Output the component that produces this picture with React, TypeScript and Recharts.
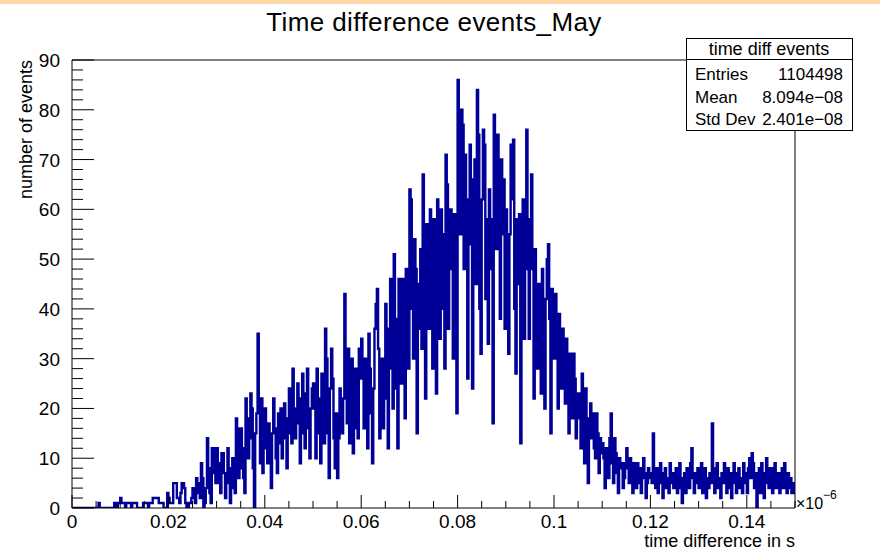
import { Line, LineChart, ReferenceLine, XAxis, YAxis } from 'recharts';

const FONT = '"Liberation Sans", Arial, Helvetica, sans-serif';
const HIST_COLOR = '#000099';

// bin width in units of 1e-6 s (600 bins over 0 .. 0.15)
const binWidth = 0.00025;

// counts per bin, 20 bins per row (one row = 0.005)
// 0 .. 0.025
const leadingCounts = [
  0, 0, 0, 0, 0, 0, 0, 0, 0, 0, 0, 0, 0, 0, 0, 0, 0, 0, 0, 0,
  0, 0, 1, 0, 0, 0, 0, 0, 0, 0, 0, 0, 0, 0, 0, 1, 1, 0, 1, 1,
  2, 1, 1, 1, 0, 1, 1, 1, 1, 0, 1, 1, 1, 1, 0, 0, 0, 0, 0, 1,
  1, 1, 1, 0, 1, 1, 1, 2, 2, 2, 2, 2, 1, 1, 1, 1, 0, 0, 0, 3,
  2, 1, 1, 1, 5, 5, 5, 2, 2, 1, 3, 5, 5, 4, 1, 0, 0, 1, 1, 2,
];
// 0.025 .. 0.075
const risingCounts = [
  4, 2, 1, 6, 5, 3, 2, 9, 6, 0, 1, 4, 14, 8, 3, 1, 12, 12, 7, 5,
  12, 9, 5, 3, 11, 11, 7, 2, 5, 12, 8, 1, 6, 10, 4, 3, 18, 16, 6, 8,
  16, 12, 6, 3, 22, 18, 10, 14, 23, 20, 8, 0, 15, 19, 35, 20, 9, 22, 7, 12,
  20, 14, 9, 17, 12, 4, 15, 22, 16, 10, 7, 19, 13, 20, 10, 14, 21, 18, 8, 15,
  24, 18, 13, 28, 20, 14, 17, 25, 22, 9, 15, 27, 19, 12, 23, 28, 16, 10, 20, 24,
  25, 20, 10, 28, 22, 15, 9, 27, 18, 13, 36, 30, 15, 6, 24, 32, 26, 14, 8, 19,
  6, 14, 24, 18, 15, 22, 43, 28, 17, 32, 13, 20, 30, 11, 16, 28, 24, 14, 32, 26,
  34, 26, 16, 30, 22, 12, 35, 28, 19, 9, 24, 36, 41, 44, 32, 14, 27, 30, 16, 22,
  41, 30, 12, 36, 46, 28, 20, 51, 38, 24, 12, 46, 33, 25, 46, 40, 18, 48, 35, 28,
  64, 62, 40, 30, 54, 48, 15, 36, 45, 52, 32, 67, 55, 22, 57, 44, 36, 60, 50, 28,
];
// 0.075 .. 0.1
const peakCounts = [
  58, 45, 23, 62, 50, 34, 60, 55, 40, 28, 71, 65, 36, 52, 60, 48, 30, 59, 42, 19,
  86, 78, 55, 80, 77, 48, 71, 62, 26, 53, 73, 66, 24, 58, 70, 45, 84, 75, 40, 31,
  62, 76, 73, 42, 58, 33, 64, 48, 58, 17, 79, 70, 52, 75, 60, 38, 70, 55, 66, 36,
  60, 48, 31, 55, 73, 62, 74, 40, 27, 58, 45, 59, 13, 50, 62, 34, 48, 76, 58, 34,
  55, 67, 48, 22, 52, 44, 28, 45, 40, 23, 48, 36, 20, 42, 50, 53, 38, 15, 44, 30,
];
// 0.1 .. 0.12
const fallingCounts = [
  38, 43, 30, 20, 39, 36, 24, 36, 33, 21, 34, 27, 15, 31, 28, 18, 31, 26, 14, 22,
  23, 18, 12, 27, 20, 9, 24, 18, 5, 16, 21, 14, 19, 12, 10, 19, 15, 7, 14, 11,
  13, 10, 4, 12, 8, 6, 14, 19, 9, 5, 14, 11, 7, 3, 10, 8, 9, 4, 6, 9,
  12, 8, 5, 10, 6, 3, 9, 7, 4, 9, 5, 8, 3, 6, 10, 7, 2, 5, 8, 6,
];
// 0.12 .. 0.15
const tailCounts = [
  7, 5, 15, 6, 4, 8, 3, 6, 9, 5, 2, 7, 8, 4, 6, 3, 9, 5, 7, 4,
  6, 8, 3, 5, 9, 4, 1, 6, 7, 3, 8, 5, 4, 9, 12, 6, 3, 7, 5, 8,
  4, 7, 9, 3, 5, 8, 2, 6, 4, 7, 5, 17, 6, 3, 8, 9, 4, 6, 2, 7,
  5, 9, 6, 3, 8, 4, 7, 2, 6, 9, 5, 3, 7, 8, 4, 6, 3, 9, 7, 5,
  3, 8, 10, 6, 11, 9, 4, 7, 0, 5, 8, 3, 9, 6, 2, 7, 10, 5, 4, 8,
  6, 3, 8, 9, 4, 5, 7, 3, 6, 8, 4, 9, 5, 3, 7, 4, 6, 3, 5, 3,
];

const counts = [...leadingCounts, ...risingCounts, ...peakCounts, ...fallingCounts, ...tailCounts];

const xTicks = [
  0, 0.005, 0.01, 0.015, 0.02, 0.025, 0.03, 0.035, 0.04, 0.045, 0.05, 0.055, 0.06, 0.065, 0.07, 0.075,
  0.08, 0.085, 0.09, 0.095, 0.1, 0.105, 0.11, 0.115, 0.12, 0.125, 0.13, 0.135, 0.14, 0.145, 0.15,
];
const xMajor = [0, 0.02, 0.04, 0.06, 0.08, 0.1, 0.12, 0.14];
const xLabels = ['0', '0.02', '0.04', '0.06', '0.08', '0.1', '0.12', '0.14'];

const yTicks = [
  0, 2, 4, 6, 8, 10, 12, 14, 16, 18, 20, 22, 24, 26, 28, 30, 32, 34, 36, 38, 40, 42, 44, 46,
  48, 50, 52, 54, 56, 58, 60, 62, 64, 66, 68, 70, 72, 74, 76, 78, 80, 82, 84, 86, 88, 90,
];
const yMajor = [0, 10, 20, 30, 40, 50, 60, 70, 80, 90];
const yLabels = ['0', '10', '20', '30', '40', '50', '60', '70', '80', '90'];

const statRows = [
  { name: 'Entries', value: '1104498' },
  { name: 'Mean', value: '8.094e\u221208' },
  { name: 'Std Dev', value: '2.401e\u221208' },
];

const histData = counts.map((count, i) => ({ x: i * binWidth, count }));
histData.push({ x: 0.15, count: counts[counts.length - 1] });

const findMajor = (list: number[], v: number) => list.findIndex((m) => Math.abs(m - v) < 1e-9);

function XTick(props: any) {
  const { x, y, payload } = props;
  const i = findMajor(xMajor, payload.value);
  const len = i >= 0 ? 13 : 7;
  return (
    <g>
      <line x1={x} x2={x} y1={y} y2={y - len} stroke="#000" strokeWidth={1} />
      {i >= 0 && (
        <text x={x} y={y + 20} textAnchor="middle" fontSize={19} fontFamily={FONT} fill="#000">
          {xLabels[i]}
        </text>
      )}
    </g>
  );
}

function YTick(props: any) {
  const { x, y, payload } = props;
  const i = findMajor(yMajor, payload.value);
  const len = i >= 0 ? 22 : 11;
  return (
    <g>
      <line x1={x} x2={x + len} y1={y} y2={y} stroke="#000" strokeWidth={1} />
      {i >= 0 && (
        <text x={x - 12} y={y + 7} textAnchor="end" fontSize={19} fontFamily={FONT} fill="#000">
          {yLabels[i]}
        </text>
      )}
    </g>
  );
}

export default function App() {
  return (
    <div style={{ position: 'absolute', left: 0, top: 0, width: 880, height: 558, background: '#fff' }}>
      <LineChart width={880} height={558} data={histData} margin={{ top: 60, right: 85, bottom: 0, left: 0 }}>
        <XAxis
          dataKey="x"
          type="number"
          domain={[0, 0.15]}
          ticks={xTicks}
          interval={0}
          height={50}
          tickSize={0}
          tickMargin={0}
          tickLine={false}
          tick={<XTick />}
          axisLine={{ stroke: '#000', strokeWidth: 1 }}
          allowDataOverflow
        />
        <YAxis
          type="number"
          domain={[0, 90]}
          ticks={yTicks}
          interval={0}
          width={72}
          tickSize={0}
          tickMargin={0}
          tickLine={false}
          tick={<YTick />}
          axisLine={{ stroke: '#000', strokeWidth: 1 }}
          allowDataOverflow
        />
        <ReferenceLine y={90} stroke="#000" strokeWidth={1} />
        <ReferenceLine x={0.15} stroke="#000" strokeWidth={1} />
        <Line
          dataKey="count"
          type="stepAfter"
          stroke={HIST_COLOR}
          strokeWidth={2.4}
          strokeLinejoin="miter"
          dot={false}
          activeDot={false}
          isAnimationActive={false}
        />
      </LineChart>
      <svg
        width={880}
        height={558}
        style={{ position: 'absolute', left: 0, top: 0, pointerEvents: 'none' }}
        fontFamily={FONT}
      >
        <rect x={0} y={0} width={880} height={4} fill="#fcd9a6" />
        <text x={434} y={31} textAnchor="middle" fontSize={26} letterSpacing={0.4} fill="#000">
          Time difference events_May
        </text>
        <text transform="translate(32,60) rotate(-90)" textAnchor="end" fontSize={18} fill="#000">
          number of events
        </text>
        <text x={795} y={547} textAnchor="end" fontSize={18} fill="#000">
          time difference in s
        </text>
        <text x={796} y={509} fontSize={16} fill="#000">
          {'\u00d710'}
        </text>
        <text x={823} y={499} fontSize={12} fill="#000">
          {'\u22126'}
        </text>
        <rect x={686.5} y={38.5} width={166} height={92} fill="#fff" stroke="#000" strokeWidth={1} />
        <line x1={686.5} x2={852.5} y1={59.5} y2={59.5} stroke="#000" strokeWidth={1} />
        <text x={769} y={55} textAnchor="middle" fontSize={18} fill="#000">
          time diff events
        </text>
        {statRows.map((row, i) => (
          <g key={row.name}>
            <text x={695} y={80 + i * 22.5} fontSize={17} fill="#000">
              {row.name}
            </text>
            <text x={843} y={80 + i * 22.5} textAnchor="end" fontSize={17} fill="#000">
              {row.value}
            </text>
          </g>
        ))}
      </svg>
    </div>
  );
}
